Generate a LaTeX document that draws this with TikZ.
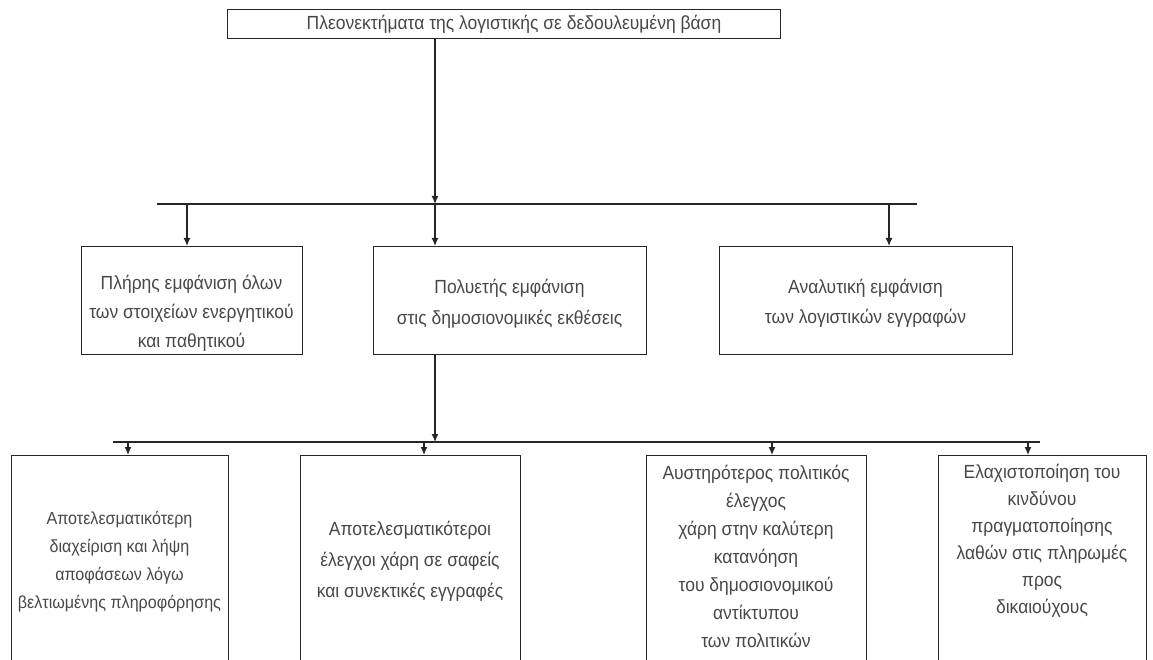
\documentclass[tikz,border=0pt]{standalone}
\usepackage{fontspec}
\setmainfont[FakeStretch=0.92]{Liberation Sans}
\usetikzlibrary{arrows.meta}
\begin{document}
\begin{tikzpicture}[x=1pt,y=-1pt,
  box/.style={draw=black!85, line width=1.3pt, anchor=north west, inner sep=0pt},
  txt/.style={align=center, text=black!72, font=\fontsize{19}{28}\selectfont, inner sep=0pt},
  ln/.style={draw=black!85, line width=1.2pt},
  arr/.style={ln, -{Latex[length=8pt,width=7pt]}}]
\useasboundingbox (0,0) rectangle (1153,660);
\clip (0,0) rectangle (1153,660);
% boxes
\node[box, minimum width=553, minimum height=29] (top) at (227,9) {};
\node[box, minimum width=221, minimum height=108] (b1) at (81,246) {};
\node[box, minimum width=273, minimum height=108] (b2) at (373,246) {};
\node[box, minimum width=293, minimum height=108] (b3) at (719,246) {};
\node[box, minimum width=217, minimum height=260] (b4) at (11,455) {};
\node[box, minimum width=220, minimum height=260] (b5) at (300,455) {};
\node[box, minimum width=220, minimum height=260] (b6) at (646,455) {};
\node[box, minimum width=208, minimum height=260] (b7) at (938,455) {};
% texts
\node[txt, font=\fontsize{19}{22}\selectfont] (ttop) at (514,24) {Πλεονεκτήματα της λογιστικής σε δεδουλευμένη βάση};
\node[txt, font=\fontsize{19}{29}\selectfont] (t1) at (191.5,313) {Πλήρης εμφάνιση όλων\\των στοιχείων ενεργητικού\\και παθητικού};
\node[txt, font=\fontsize{19}{31}\selectfont] (t2) at (509.5,304) {Πολυετής εμφάνιση\\στις δημοσιονομικές εκθέσεις};
\node[txt, font=\fontsize{19}{30}\selectfont] (t3) at (865.5,303) {Αναλυτική εμφάνιση\\των λογιστικών εγγραφών};
\node[txt, font=\fontsize{17.5}{28}\selectfont] (t4) at (119.5,561.5) {Αποτελεσματικότερη\\διαχείριση και λήψη\\αποφάσεων λόγω\\βελτιωμένης πληροφόρησης};
\node[txt, font=\fontsize{19}{31}\selectfont] (t5) at (410,561) {Αποτελεσματικότεροι\\έλεγχοι χάρη σε σαφείς\\και συνεκτικές εγγραφές};
\node[txt] (t6) at (756,556) {Αυστηρότερος πολιτικός\\έλεγχος\\χάρη στην καλύτερη\\κατανόηση\\του δημοσιονομικού\\αντίκτυπου\\των πολιτικών};
\node[txt, font=\fontsize{19}{27}\selectfont] (t7) at (1042,540.5) {Ελαχιστοποίηση του\\κινδύνου\\πραγματοποίησης\\λαθών στις πληρωμές\\προς\\δικαιούχους};
% junction coordinates
\coordinate (j1) at (435,204);
\coordinate (h1l) at (157,204);
\coordinate (h1r) at (917,204);
\coordinate (a1) at (187,204);
\coordinate (a3) at (889,204);
\coordinate (j2) at (435,442);
\coordinate (h2l) at (113,442);
\coordinate (h2r) at (1040,442);
\coordinate (c4) at (128,442);
\coordinate (c5) at (424,442);
\coordinate (c6) at (772,442);
\coordinate (c7) at (1028,442);
% connectors
\draw[arr] (top.south -| j1) -- (j1);
\draw[ln] (h1l) -- (h1r);
\draw[arr] (a1) -- (a1 |- b1.north);
\draw[arr] (j1) -- (j1 |- b2.north);
\draw[arr] (a3) -- (a3 |- b3.north);
\draw[arr] (b2.south -| j2) -- (j2);
\draw[ln] (h2l) -- (h2r);
\draw[arr] (c4) -- (c4 |- b4.north);
\draw[arr] (c5) -- (c5 |- b5.north);
\draw[arr] (c6) -- (c6 |- b6.north);
\draw[arr] (c7) -- (c7 |- b7.north);
\end{tikzpicture}
\end{document}
